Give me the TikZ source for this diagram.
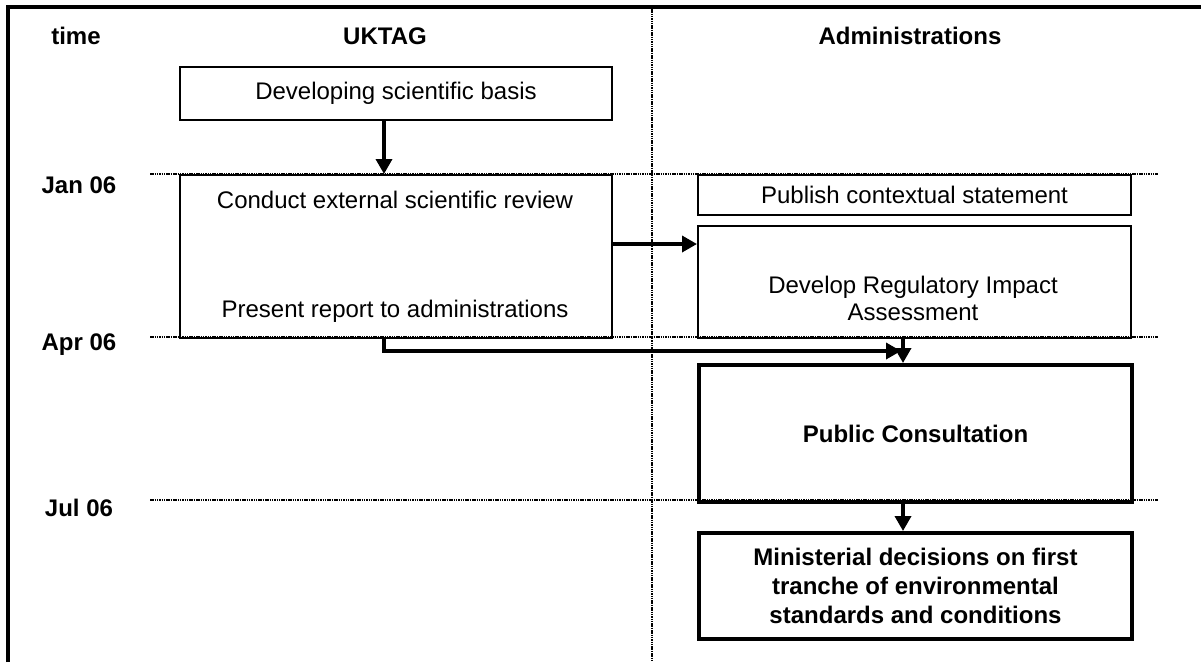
\documentclass[tikz,border=0pt]{standalone}
\usepackage{fontspec}
\setmainfont{Liberation Sans}
\usetikzlibrary{arrows.meta}
\begin{document}
\begin{tikzpicture}[x=1pt,y=-1pt,
  every node/.style={font=\fontsize{24}{27}\selectfont, inner sep=0pt},
  hdr/.style={font=\fontsize{24}{27}\selectfont\bfseries},
  thinbox/.style={draw, line width=2pt, anchor=north west},
  thickbox/.style={draw, line width=4pt, anchor=north west},
  boldtxt/.style={font=\fontsize{24}{29}\selectfont\bfseries, align=center},
  plaintxt/.style={align=center},
  timeline/.style={line width=2.5pt, dash pattern=on 1.5pt off 0.8pt},
  frame/.style={line width=4pt},
  arr/.style={line width=3.5pt, -{Triangle[length=15pt,width=16pt]}}
]
\useasboundingbox (0,0) rectangle (1201,662);
% frame
\coordinate (fbl) at (8,662);
\coordinate (ftl) at (8,7);
\coordinate (ftr) at (1201,7);
\draw[frame] (fbl) -- (ftl) -- (ftr);
\coordinate (dtop) at (652,9);
\coordinate (dbot) at (652,662);
\draw[timeline] (dtop) -- (dbot);
% headers
\node[hdr] (hTime) at (76,36) {time};
\node[hdr] (hUK) at (385,36) {UKTAG};
\node[hdr] (hAdm) at (910,36) {Administrations};
% time lines
\coordinate (j1) at (150,174); \coordinate (j2) at (1158,174);
\coordinate (a1) at (150,337); \coordinate (a2) at (1158,337);
\coordinate (u1) at (150,500); \coordinate (u2) at (1158,500);
\draw[timeline] (j1) -- (j2);
\draw[timeline] (a1) -- (a2);
\draw[timeline] (u1) -- (u2);
\node[hdr] (tJan) at (79,185) {Jan 06};
\node[hdr] (tApr) at (79,345) {Apr 06};
\node[hdr] (tJul) at (79,508) {Jul 06};
% boxes
\node[thinbox, minimum width=432pt, minimum height=53pt] (b1) at (179,66) {};
\node[plaintxt] (t1) at (b1.center) {Developing scientific basis};
\node[thinbox, minimum width=432pt, minimum height=163pt] (b2) at (179,174) {};
\node[plaintxt] (t2a) at (395,200) {Conduct external scientific review};
\node[plaintxt] (t2b) at (395,311) {Present report to administrations};
\node[thinbox, minimum width=433pt, minimum height=40pt] (b3) at (697,174) {};
\node[plaintxt] (t3) at (b3.center) {Publish contextual statement};
\node[thinbox, minimum width=433pt, minimum height=112pt] (b4) at (697,225) {};
\node[plaintxt] (t4) at (913,298) {Develop Regulatory Impact\\Assessment};
\node[thickbox, minimum width=433pt, minimum height=137pt] (b5) at (697,363) {};
\node[boldtxt] (t5) at (b5.center) {Public Consultation};
\node[thickbox, minimum width=433pt, minimum height=106pt] (b6) at (697,531) {};
\node[boldtxt] (t6) at (b6.center) {Ministerial decisions on first\\tranche of environmental\\standards and conditions};
% arrows
\draw[arr] (b1.south -| 384,0) -- (b2.north -| 384,0);
\draw[arr] (b2.east |- 0,244) -- (b4.west |- 0,244);
\coordinate (e1) at (384,351);
\coordinate (e2) at (901,351);
\draw[arr] (b2.south -| e1) -- (e1) -- (e2);
\draw[arr] (b4.south -| 903,0) -- (b5.north -| 903,0);
\draw[arr] (b5.south -| 903,0) -- (b6.north -| 903,0);
\end{tikzpicture}
\end{document}
